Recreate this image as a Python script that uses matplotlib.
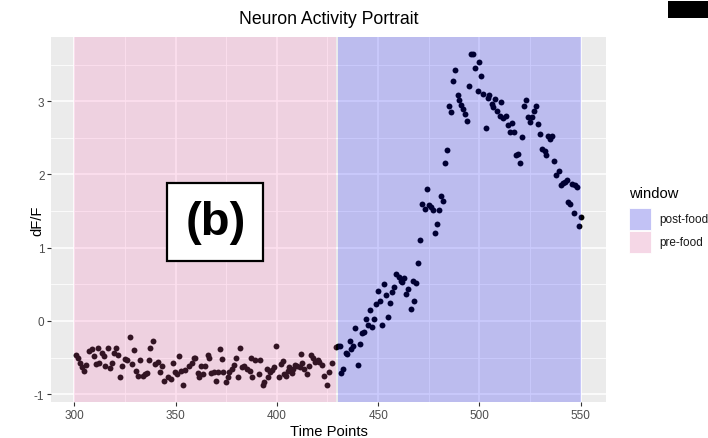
import matplotlib
matplotlib.use("Agg")
import matplotlib.pyplot as plt
from matplotlib.patches import Rectangle

# ---------------- data ----------------
pre_time = [301, 302, 303, 304, 305, 306, 307.5, 308.7, 309.5, 310.7, 311.5, 312.4,
            313.5, 314.5, 315.2, 316.6, 317.6, 318.6, 319.4, 320.6, 321.7, 322.4,
            323.4, 324.9, 325.8, 327.5, 328.3, 329.6, 330.5, 331.6, 332.6, 333.7,
            335, 335.9, 336.7, 337.5, 338.7, 340, 341.2, 342.3, 343.3, 344.1,
            346.1, 347.8, 348.6, 349.9, 350.7, 351.6, 352.7, 353.9, 354.8, 356.8,
            358.1, 358.9, 359.8, 360.9, 361.8, 362.6, 363.4, 364.6, 365.9, 366.7,
            367.5, 369.2, 370, 370.8, 371.8, 372.8, 373.3, 374.9, 375.8, 376.6,
            377.9, 378.6, 379.9, 380.7, 381.7, 382.8, 384, 385.1, 386.5, 387,
            387.8, 389.4, 391, 391.9, 393, 393.9, 395, 395.5, 396.7, 397.7,
            398.8, 399.6, 400.9, 402.1, 402.9, 403.7, 404.6, 405.4, 406.2, 407.4,
            408.2, 409, 410, 411.2, 412, 412.5, 413.3, 414.8, 415.8, 416.9,
            417.7, 418.9, 420.2, 421, 422.4, 423.5, 424.7, 425.6, 427.3, 429]
pre_dff = [-0.46, -0.50, -0.58, -0.63, -0.68, -0.60, -0.41, -0.38, -0.48, -0.59, -0.37, -0.58,
           -0.44, -0.48, -0.61, -0.37, -0.64, -0.58, -0.44, -0.37, -0.46, -0.76,
           -0.61, -0.52, -0.54, -0.22, -0.59, -0.40, -0.68, -0.75, -0.53, -0.75,
           -0.73, -0.71, -0.53, -0.37, -0.28, -0.59, -0.56, -0.70, -0.61, -0.82,
           -0.77, -0.79, -0.58, -0.70, -0.72, -0.48, -0.68, -0.87, -0.67, -0.61,
           -0.58, -0.51, -0.50, -0.71, -0.76, -0.61, -0.73, -0.61, -0.47, -0.50,
           -0.71, -0.70, -0.82, -0.70, -0.39, -0.52, -0.70, -0.84, -0.77, -0.70,
           -0.65, -0.60, -0.51, -0.76, -0.37, -0.63, -0.61, -0.66, -0.68, -0.50,
           -0.77, -0.53, -0.72, -0.53, -0.88, -0.84, -0.65, -0.77, -0.70, -0.67,
           -0.63, -0.34, -0.76, -0.59, -0.55, -0.73, -0.75, -0.68, -0.63, -0.71,
           -0.66, -0.60, -0.61, -0.63, -0.45, -0.58, -0.65, -0.73, -0.62, -0.46,
           -0.51, -0.56, -0.53, -0.56, -0.60, -0.75, -0.87, -0.70, -0.58, -0.35]

post_time = [430, 431, 431.7, 432.6, 433.9, 434.7, 435.9, 436.7, 437.5, 438.7, 440, 441.2,
             442, 443, 443.8, 444.9, 445.8, 446.9, 447.9, 449.1, 449.9, 450.9, 452,
             452.7, 454, 455, 456, 456.8, 458, 459, 460.1, 461.1, 461.8, 462.9, 463.9,
             464.9, 466, 467.2, 467.8, 468.8, 469.6, 470.5, 471.8, 472.9, 474.1, 475,
             475.9, 477, 478, 478.9, 480, 480.8, 481.8, 482.8, 484, 484.9, 485.8,
             486.9, 488.1, 489.2, 489.9, 490.9, 491.9, 492.7, 493.9, 494.9, 496,
             496.8, 498, 499.1, 499.8, 501, 502, 503.1, 504, 504.8, 506, 506.8,
             507.9, 508.8, 510, 510.8, 511.6, 512.9, 514.1, 514.9, 516, 517, 517.9,
             519, 520, 521, 521.8, 522.8, 524, 524.8, 526, 526.9, 528.1, 528.9,
             529.9, 531.1, 532.2, 533, 533.8, 534.7, 535.8, 536.8, 538, 539.1,
             540.1, 541.2, 542.4, 543.3, 543.7, 544.9, 545.9, 546.9, 547, 548.2,
             549.2, 550]
post_dff = [-0.34, -0.34, -0.71, -0.66, -0.44, -0.45, -0.27, -0.38, -0.34, -0.10, -0.60, -0.32,
            -0.17, -0.15, 0.02, -0.06, 0.15, -0.08, 0.03, 0.23, 0.41, 0.27, -0.05,
            0.51, 0.35, 0.06, 0.25, 0.40, 0.46, 0.64, 0.60, 0.54, 0.53, 0.59, 0.37,
            0.44, 0.16, 0.54, 0.27, 0.52, 0.79, 1.11, 1.59, 1.53, 1.80, 1.58,
            1.55, 1.51, 1.20, 1.32, 1.51, 1.71, 1.64, 2.16, 2.34, 2.94, 2.85,
            3.27, 3.42, 3.09, 3.02, 2.95, 2.89, 2.82, 2.73, 3.21, 3.65,
            3.65, 3.46, 3.14, 3.54, 3.35, 3.10, 2.64, 3.04, 3.09, 2.96, 2.92,
            3.03, 2.86, 2.80, 2.99, 2.77, 2.80, 2.68, 2.58, 2.70, 2.58, 2.26,
            2.28, 2.16, 2.51, 2.94, 3.01, 2.78, 2.71, 2.78, 2.86, 2.94, 2.69,
            2.55, 2.35, 2.32, 2.27, 2.53, 2.49, 2.52, 2.18, 1.99, 2.05,
            1.86, 1.88, 1.90, 1.92, 1.62, 1.60, 1.87, 1.48, 1.85, 1.83,
            1.30, 1.42]

window_names = ["post-food", "pre-food"]
window_start = [430, 300]
window_end = [550, 429.3]
window_fill = ["#0000FF", "#FF69B4"]
window_alpha = 0.2

x_ticks = [300, 350, 400, 450, 500, 550]
y_ticks = [-1, 0, 1, 2, 3]

# ---------------- figure ----------------
plt.rcParams['font.family'] = ['Liberation Sans', 'DejaVu Sans']
W, H = 708, 439
fig = plt.figure(figsize=(W / 100, H / 100), dpi=100)
fig.patch.set_facecolor('white')

def fx(px):
    return px / W

def fy(py):
    return 1 - py / H

pl, pr, pt, pb = 51, 606, 38, 403
ax = fig.add_axes([fx(pl), fy(pb), (pr - pl) / W, (pb - pt) / H])
ax.set_facecolor('#EBEBEB')
ax.set_xlim(288.5, 562.5)
ax.set_ylim(-1.107, 3.877)

ax.set_xticks(x_ticks)
ax.set_xticklabels([str(v) for v in x_ticks])
ax.set_yticks(y_ticks)
ax.set_yticklabels([str(v) for v in y_ticks])
ax.set_xticks([325, 375, 425, 475, 525], minor=True)
ax.set_yticks([-0.5, 0.5, 1.5, 2.5, 3.5], minor=True)
ax.grid(which='major', color='white', linewidth=1.1)
ax.grid(which='minor', color='white', linewidth=0.55)
ax.set_axisbelow(True)
for s in ax.spines.values():
    s.set_visible(False)
ax.tick_params(which='major', length=2.7, width=0.8, color='#333333',
               labelcolor='#4D4D4D', labelsize=8.5, pad=2)
ax.tick_params(which='minor', length=0)

ax.scatter(pre_time + post_time, pre_dff + post_dff, s=18, c='black',
           linewidths=0, zorder=2)

for name, x0, x1, col in zip(window_names, window_start, window_end, window_fill):
    ax.axvspan(x0, x1, facecolor=col, alpha=window_alpha, linewidth=0, zorder=3)

# annotation box "(b)"
ax.add_patch(Rectangle((345.9, 0.82), 47.5, 1.065, facecolor='white',
                       edgecolor='black', linewidth=1.6, zorder=4))
ax.text(369.7, 1.35, "(b)", ha='center', va='center', fontsize=34,
        fontweight='bold', color='black', zorder=5)

# titles
fig.text(fx((pl + pr) / 2), fy(20), "Neuron Activity Portrait", ha='center',
         va='center', fontsize=12.7, color='black')
fig.text(fx((pl + pr) / 2), fy(432), "Time Points", ha='center', va='center',
         fontsize=10.6, color='black')
fig.text(fx(37), fy((pt + pb) / 2), "dF/F", ha='center', va='center',
         rotation=90, fontsize=10.6, color='black')

# legend
fig.text(fx(629), fy(194), "window", ha='left', va='center', fontsize=10.6)
key_bg = (242 / 255, 242 / 255, 242 / 255)
key_tops = [209, 232]
for name, col, top in zip(window_names, window_fill, key_tops):
    r, g, b = matplotlib.colors.to_rgb(col)
    comp = tuple(key_bg[i] * (1 - window_alpha) + (r, g, b)[i] * window_alpha for i in range(3))
    fig.patches.append(Rectangle((fx(629), fy(top + 22)), 22 / W, 22 / H,
                                 facecolor=comp, edgecolor='white', linewidth=0.6,
                                 transform=fig.transFigure, figure=fig))
    fig.text(fx(659), fy(top + 11), name, ha='left', va='center', fontsize=8.5,
             color='#1A1A1A')

# black box in the top-right corner
fig.patches.append(Rectangle((fx(668), fy(19)), 40 / W, 17 / H, facecolor='black',
                             edgecolor='none', transform=fig.transFigure, figure=fig))

fig.savefig("out.png", dpi=100)
